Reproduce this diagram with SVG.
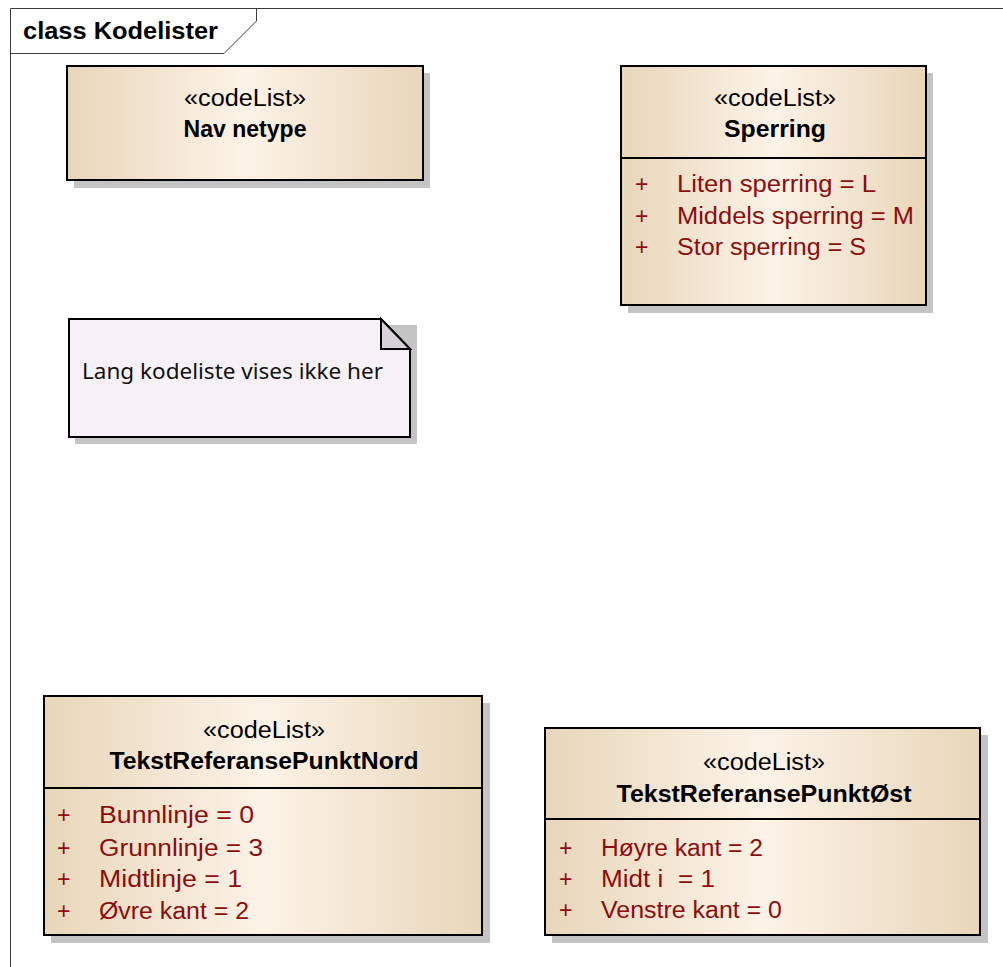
<svg xmlns="http://www.w3.org/2000/svg" width="1003" height="967" viewBox="0 0 1003 967">
<defs>
<linearGradient id="cls" x1="0" y1="0" x2="1" y2="0">
<stop offset="0" stop-color="#e8d6ba"/>
<stop offset="0.5" stop-color="#fcf2e6"/>
<stop offset="1" stop-color="#e8d6ba"/>
</linearGradient>
<style>
.frame{fill:none;stroke:#3c3c3c;stroke-width:1}
.shadow{fill:#c4c4c4}
.box{fill:url(#cls);stroke:#000;stroke-width:2}
.div{stroke:#000;stroke-width:2}
.st{font-family:"Liberation Sans",Arial,sans-serif;font-size:23px;fill:#000;text-anchor:middle}
.nm{font-family:"Liberation Sans",Arial,sans-serif;font-size:23px;font-weight:bold;fill:#000;text-anchor:middle}
.at{font-family:"Liberation Sans",Arial,sans-serif;font-size:23px;fill:#8b0d0d;white-space:pre}
.title{font-family:"Liberation Sans",Arial,sans-serif;font-size:23px;font-weight:bold;fill:#000}
.note{fill:#f5f1f6;stroke:#000;stroke-width:2}
.fold{fill:#d7d1d8;stroke:#000;stroke-width:2;stroke-linejoin:miter}
.nt{font-family:"Noto Sans","Open Sans",sans-serif;font-size:21px;fill:#111}
</style>
</defs>
<rect width="1003" height="967" fill="#fff"/>
<g id="frame">
<path class="frame" d="M10.5,967 L10.5,8.5 L1003,8.5"/>
<path class="frame" d="M10.5,53.5 L224,53.5 L256.5,21 L256.5,8.5"/>
<text class="title" x="23" y="39" textLength="195" lengthAdjust="spacingAndGlyphs">class Kodelister</text>
</g>
<g id="Navnetype">
<rect class="shadow" x="74" y="73" width="356" height="115"/>
<rect class="box" x="67" y="66" width="356" height="114"/>
<text class="st" x="245" y="106" textLength="122" lengthAdjust="spacingAndGlyphs">«codeList»</text>
<text class="nm" x="245" y="137" textLength="123" lengthAdjust="spacingAndGlyphs">Nav netype</text>
</g>
<g id="Sperring">
<rect class="shadow" x="628" y="73" width="305" height="240"/>
<rect class="box" x="621" y="66" width="305" height="239"/>
<line class="div" x1="621" y1="158" x2="926" y2="158"/>
<text class="st" x="775" y="106" textLength="122" lengthAdjust="spacingAndGlyphs">«codeList»</text>
<text class="nm" x="775" y="137" textLength="102" lengthAdjust="spacingAndGlyphs">Sperring</text>
<text class="at" x="635" y="192">+</text>
<text class="at" x="677" y="192" textLength="199" lengthAdjust="spacingAndGlyphs">Liten sperring = L</text>
<text class="at" x="635" y="224">+</text>
<text class="at" x="677" y="224" textLength="237" lengthAdjust="spacingAndGlyphs">Middels sperring = M</text>
<text class="at" x="635" y="255">+</text>
<text class="at" x="677" y="255" textLength="189" lengthAdjust="spacingAndGlyphs">Stor sperring = S</text>
</g>
<g id="Note">
<rect class="shadow" x="75" y="325" width="342" height="119"/>
<path class="note" d="M69,319 L381,319 L410,349 L410,437 L69,437 Z"/>
<path class="fold" d="M381,319 L381,349 L410,349 Z"/>
<text class="nt" x="82" y="379" textLength="301" lengthAdjust="spacingAndGlyphs">Lang kodeliste vises ikke her</text>
</g>
<g id="TekstReferansePunktNord">
<rect class="shadow" x="51" y="703" width="439" height="240"/>
<rect class="box" x="44" y="696" width="438" height="239"/>
<line class="div" x1="44" y1="788" x2="482" y2="788"/>
<text class="st" x="264" y="738" textLength="122" lengthAdjust="spacingAndGlyphs">«codeList»</text>
<text class="nm" x="264" y="769" textLength="309" lengthAdjust="spacingAndGlyphs">TekstReferansePunktNord</text>
<text class="at" x="57" y="823">+</text>
<text class="at" x="99" y="823" textLength="155" lengthAdjust="spacingAndGlyphs">Bunnlinje = 0</text>
<text class="at" x="57" y="856">+</text>
<text class="at" x="99" y="856" textLength="164" lengthAdjust="spacingAndGlyphs">Grunnlinje = 3</text>
<text class="at" x="57" y="887">+</text>
<text class="at" x="99" y="887" textLength="143" lengthAdjust="spacingAndGlyphs">Midtlinje = 1</text>
<text class="at" x="57" y="919">+</text>
<text class="at" x="99" y="919" textLength="150" lengthAdjust="spacingAndGlyphs">Øvre kant = 2</text>
</g>
<g id="TekstReferansePunktOst">
<rect class="shadow" x="552" y="735" width="436" height="208"/>
<rect class="box" x="545" y="728" width="435" height="207"/>
<line class="div" x1="545" y1="819" x2="980" y2="819"/>
<text class="st" x="764" y="770" textLength="122" lengthAdjust="spacingAndGlyphs">«codeList»</text>
<text class="nm" x="764" y="802" textLength="295" lengthAdjust="spacingAndGlyphs">TekstReferansePunktØst</text>
<text class="at" x="559" y="856">+</text>
<text class="at" x="601" y="856" textLength="162" lengthAdjust="spacingAndGlyphs">Høyre kant = 2</text>
<text class="at" x="559" y="887">+</text>
<text class="at" x="601" y="887" textLength="114" lengthAdjust="spacingAndGlyphs" xml:space="preserve">Midt i  = 1</text>
<text class="at" x="559" y="918">+</text>
<text class="at" x="601" y="918" textLength="181" lengthAdjust="spacingAndGlyphs">Venstre kant = 0</text>
</g>
<g id="connectors"/>
</svg>
